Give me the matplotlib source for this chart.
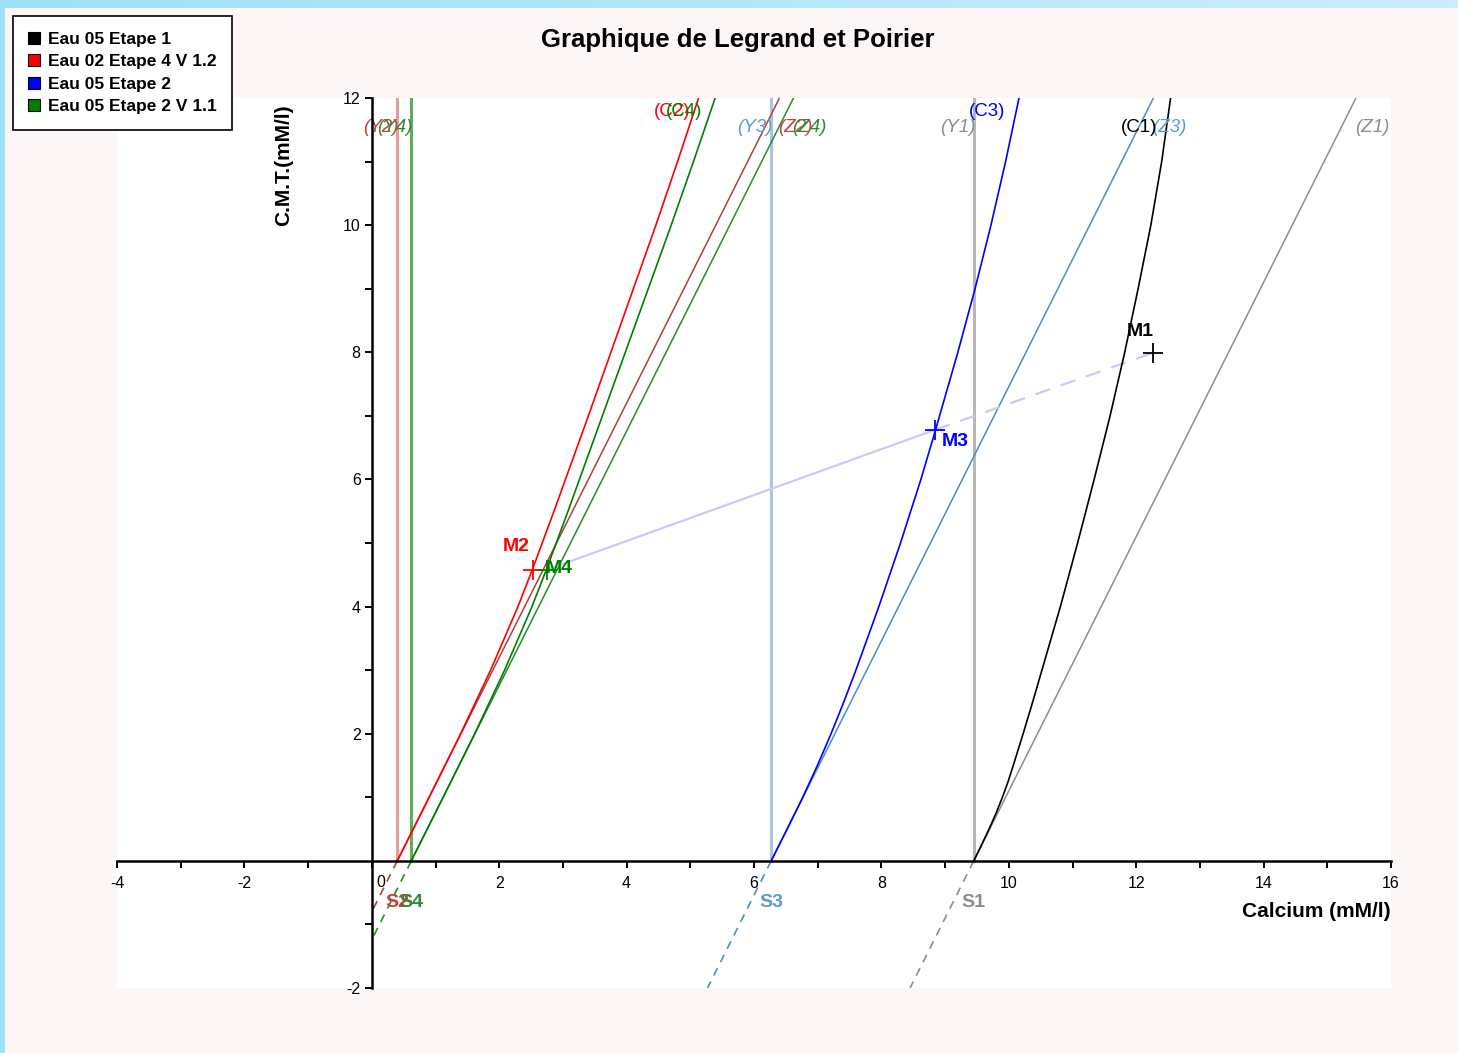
import numpy as np
import matplotlib
matplotlib.use("Agg")
import matplotlib.pyplot as plt
from matplotlib.lines import Line2D
from matplotlib.ticker import FixedLocator

plt.rcParams['font.family'] = ['Liberation Sans', 'DejaVu Sans']

# ---- data -------------------------------------------------------------
sample_names = ['Eau 05 Etape 1', 'Eau 02 Etape 4 V 1.2',
                'Eau 05 Etape 2', 'Eau 05 Etape 2 V 1.1']
sample_ids = ['1', '2', '3', '4']

# calcium of the S point of each water (C.M.T. = 0), mM/l
s_calcium = [9.45, 0.40, 6.27, 0.62]

# representative points M (calcium, C.M.T.)
m_calcium = [12.26, 2.53, 8.84, 2.75]
m_cmt = [7.99, 4.58, 6.78, 4.58]

# calco-carbonic equilibrium curves C
c1_cmt = [0, 0.25, 0.5, 0.75, 1.0, 1.25, 1.5, 2.0, 2.5, 3.0, 4.0, 5.0, 6.0, 7.0, 8.0, 9.0, 10.0, 11.0, 12.0]
c1_calcium = [9.45, 9.572, 9.69, 9.80, 9.90, 9.99, 10.07, 10.225, 10.375, 10.52, 10.81, 11.08,
              11.34, 11.59, 11.82, 12.03, 12.23, 12.40, 12.54]

c2_cmt = [0, 1.0, 2.0, 3.0, 4.0, 4.58, 5.5, 7.0, 8.5, 10.0, 11.0, 12.0]
c2_calcium = [0.40, 0.90, 1.395, 1.865, 2.295, 2.52, 2.86, 3.40, 3.93, 4.46, 4.80, 5.13]

c3_cmt = [0, 0.5, 1.0, 1.5, 2.0, 2.5, 3.0, 4.0, 5.0, 6.0, 6.78, 8.0, 9.0, 10.0, 11.0, 12.0]
c3_calcium = [6.27, 6.52, 6.765, 6.995, 7.21, 7.41, 7.60, 7.96, 8.30, 8.62, 8.85, 9.20,
              9.47, 9.72, 9.95, 10.16]

c4_cmt = [0, 1.0, 2.0, 3.0, 4.0, 4.58, 5.5, 7.0, 8.5, 10.0, 11.0, 12.0]
c4_calcium = [0.62, 1.12, 1.615, 2.085, 2.515, 2.74, 3.08, 3.62, 4.16, 4.70, 5.05, 5.39]

# Z lines: calcium gained per unit of C.M.T.
z_slope = 0.5

# mixing path M4 -> M3 -> M1
mix_calcium = [m_calcium[3], m_calcium[2], m_calcium[0]]
mix_cmt = [m_cmt[3], m_cmt[2], m_cmt[0]]

x_ticks = [-4, -2, 0, 2, 4, 6, 8, 10, 12, 14, 16]
y_ticks = [-2, 2, 4, 6, 8, 10, 12]

# ---- styling ----------------------------------------------------------
curve_colors = ['#000000', '#ff0000', '#0000ff', '#008000']
z_colors = ['#8e8e8e', '#b0403c', '#4b8ec4', '#2a8a2a']
y_colors = ['#b8b8b8', '#e0a0a0', '#a8c5e6', '#5fae5f']
txt_colors = ['#8c8c8c', '#c0403a', '#5b9bd5', '#2f8a2f']

X_MIN, X_MAX, Y_MIN, Y_MAX = -4, 16, -2, 12

fig = plt.figure(figsize=(14.58, 10.53), dpi=100, facecolor='#fcf7f6')

# light cyan frame bands at the top and left edge
bg = fig.add_axes([0, 0, 1, 1], zorder=-10)
bg.set_xlim(0, 1458)
bg.set_ylim(1053, 0)
bg.axis('off')
top_band = np.linspace(0, 1, 256)[None, :, None]
c_left = np.array([0.62, 0.88, 0.97])
c_right = np.array([0.80, 0.93, 0.98])
top_rgb = c_left * (1 - top_band) + c_right * top_band
bg.imshow(top_rgb, extent=(0, 1458, 8, 0), aspect='auto')
left_rgb = np.tile(c_left, (64, 1))[:, None, :]
bg.imshow(left_rgb, extent=(0, 5, 1053, 0), aspect='auto')

ax = fig.add_axes([117 / 1458, 1 - 988 / 1053, (1391 - 117) / 1458, (988 - 98) / 1053])
ax.set_facecolor('white')
ax.set_xlim(X_MIN, X_MAX)
ax.set_ylim(Y_MIN, Y_MAX)

c_curves = [(c1_calcium, c1_cmt), (c2_calcium, c2_cmt),
            (c3_calcium, c3_cmt), (c4_calcium, c4_cmt)]

for i, s in enumerate(s_calcium):
    # vertical Y line
    ax.plot([s, s], [0, Y_MAX + 1], color=y_colors[i], lw=2.2, zorder=2)
    # Z line above the axis
    z_top = Y_MAX + 1
    ax.plot([s, s + z_slope * z_top], [0, z_top], color=z_colors[i], lw=1.1, zorder=3)
    # dashed extension below the axis, stopped at calcium = 0
    y_end = max(Y_MIN, -s / z_slope)
    ax.plot([s, s + z_slope * y_end], [0, y_end], color=z_colors[i], lw=1.2,
            ls=(0, (5, 4)), zorder=3)
    # equilibrium curve
    cx, cy = c_curves[i]
    ax.plot(cx, cy, color=curve_colors[i], lw=1.2, zorder=4, solid_joinstyle='round')

# mixing line
ax.plot(mix_calcium[:2], mix_cmt[:2], color='#cacaf6', lw=1.6, zorder=3)
ax.plot(mix_calcium[1:], mix_cmt[1:], color='#cacaf6', lw=1.6, ls=(0, (7, 5)), zorder=3)

# M points
for i in range(4):
    ax.plot(m_calcium[i], m_cmt[i], marker='+', ms=15, mew=1.3,
            color=curve_colors[i], zorder=6, ls='none')

label_y = 11.53
fs_lbl = 13.5
for i, s in enumerate(s_calcium):
    ax.text(s + 0.02, label_y, f'(Y{sample_ids[i]})', color=txt_colors[i],
            style='italic', fontsize=fs_lbl, ha='right', va='center', zorder=7)
    ax.text(s + z_slope * label_y + 0.22, label_y, f'(Z{sample_ids[i]})',
            color=txt_colors[i], style='italic', fontsize=fs_lbl,
            ha='left', va='center', zorder=7)
    ax.text(s - 0.19, -0.65, f'S{sample_ids[i]}', color=txt_colors[i],
            fontsize=14, fontweight='bold', ha='left', va='center', zorder=7)

# C labels
ax.text(12.33, 11.53, '(C1)', color=curve_colors[0], fontsize=fs_lbl, ha='right', va='center', zorder=7)
ax.text(5.00, 11.78, '(C2)', color=curve_colors[1], fontsize=fs_lbl, ha='right', va='center', zorder=7)
ax.text(9.94, 11.78, '(C3)', color=curve_colors[2], fontsize=fs_lbl, ha='right', va='center', zorder=7)
ax.text(5.18, 11.78, '(C4)', color=curve_colors[3], fontsize=fs_lbl, ha='right', va='center', zorder=7)

# M labels
ax.text(m_calcium[0] - 0.41, m_cmt[0] + 0.33, 'M1', color=curve_colors[0],
        fontsize=14, fontweight='bold', ha='left', va='center', zorder=7)
ax.text(m_calcium[1] - 0.47, m_cmt[1] + 0.37, 'M2', color=curve_colors[1],
        fontsize=14, fontweight='bold', ha='left', va='center', zorder=7)
ax.text(m_calcium[2] + 0.11, m_cmt[2] - 0.19, 'M3', color=curve_colors[2],
        fontsize=14, fontweight='bold', ha='left', va='center', zorder=7)
ax.text(m_calcium[3] - 0.02, m_cmt[3] + 0.02, 'M4', color=curve_colors[3],
        fontsize=14, fontweight='bold', ha='left', va='center', zorder=7)

# ---- axes -------------------------------------------------------------
for side in ('top', 'right'):
    ax.spines[side].set_visible(False)
ax.spines['left'].set_position(('data', 0))
ax.spines['bottom'].set_position(('data', 0))
for side in ('left', 'bottom'):
    ax.spines[side].set_linewidth(1.8)
    ax.spines[side].set_zorder(8)

ax.xaxis.set_major_locator(FixedLocator(x_ticks))
ax.xaxis.set_minor_locator(FixedLocator([v + 1 for v in x_ticks[:-1]]))
ax.yaxis.set_major_locator(FixedLocator(y_ticks))
ax.yaxis.set_minor_locator(FixedLocator([-1, 1, 3, 5, 7, 9, 11]))
ax.set_xticklabels(['' if v == 0 else str(v) for v in x_ticks])
ax.set_yticklabels([str(v) for v in y_ticks])
ax.tick_params(which='both', direction='out', length=5, width=1.4, color='black')
ax.tick_params(axis='x', which='major', labelsize=11.5, pad=6)
ax.tick_params(axis='y', which='major', labelsize=11.5, pad=3)
ax.annotate('0', xy=(0, 0), xytext=(9, -22), textcoords='offset pixels',
            fontsize=11.5, ha='center', va='center')

ax.text(-1.39, 10.95, 'C.M.T.(mM/l)', rotation=90, fontsize=15,
        fontweight='bold', ha='center', va='center')
ax.text(16.0, -0.80, 'Calcium (mM/l)', fontsize=15, fontweight='bold',
        ha='right', va='center')

fig.text(738 / 1458, 1 - 40 / 1053, 'Graphique de Legrand et Poirier',
         fontsize=18.5, fontweight='bold', ha='center', va='center')

handles = [Line2D([], [], ls='none', marker='s', ms=8, markerfacecolor=c,
                  markeredgecolor='black', markeredgewidth=0.8)
           for c in curve_colors]
leg = fig.legend(handles, sample_names, loc='upper left',
                 bbox_to_anchor=(13 / 1458, 1 - 16 / 1053),
                 borderaxespad=0, fancybox=False, framealpha=1,
                 edgecolor='black', facecolor='white',
                 prop={'weight': 'bold', 'size': 12.5},
                 handlelength=0.6, handletextpad=0.5, labelspacing=0.42,
                 borderpad=0.9)
leg.get_frame().set_linewidth(1.2)

fig.savefig('out.png', dpi=100, facecolor=fig.get_facecolor())
